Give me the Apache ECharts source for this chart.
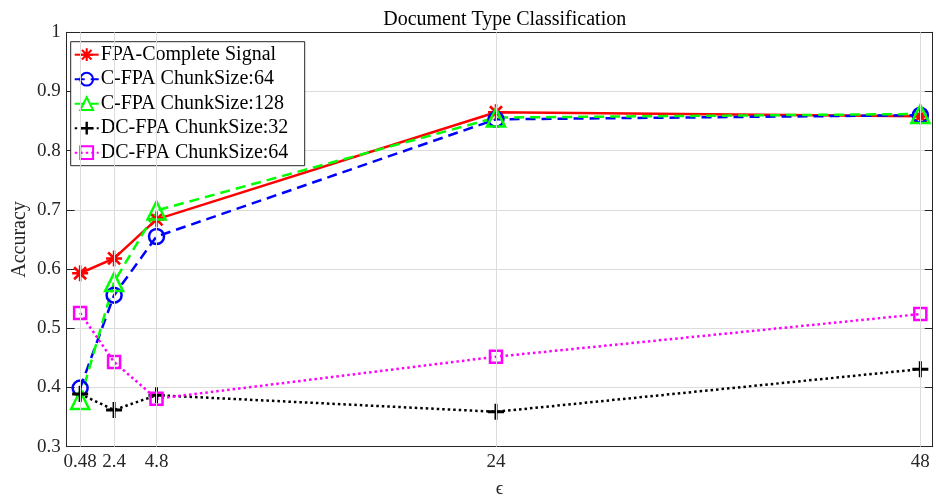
<!DOCTYPE html>
<html>
<head>
<meta charset="utf-8">
<script src="https://cdn.jsdelivr.net/npm/echarts@6/dist/echarts.min.js"></script>
<style>html,body{margin:0;padding:0;background:#fff}#c{width:936px;height:499px}</style>
</head>
<body>
<div id="c"></div>
<script>
const xValues = [0.48, 2.4, 4.8, 24, 48];
const xTickLabels = [0.48, 2.4, 4.8, 24, 48];
const seriesNames = ['FPA-Complete Signal', 'C-FPA ChunkSize:64', 'C-FPA ChunkSize:128', 'DC-FPA ChunkSize:32', 'DC-FPA ChunkSize:64'];
const fpaComplete = [0.593, 0.618, 0.684, 0.865, 0.858];
const cfpa64 = [0.399, 0.556, 0.655, 0.853, 0.860];
const cfpa128 = [0.379, 0.578, 0.699, 0.856, 0.862];
const dcfpa32 = [0.389, 0.362, 0.387, 0.359, 0.431];
const dcfpa64 = [0.526, 0.443, 0.381, 0.452, 0.524];

const FONT = 'Liberation Serif';
const AX = '#262626';
const GRID = '#dcdcdc';
const XMIN = -0.28, XMAX = 48.7;

const asterisk = 'path://M6.7,0H9.3V6.7H16V9.3H9.3V16H6.7V9.3H0V6.7H6.7Z M2.92,1.08L14.92,13.08L13.08,14.92L1.08,2.92Z M13.08,1.08L14.92,2.92L2.92,14.92L1.08,13.08Z';
const plus = 'path://M6.5,0H9.5V6.5H16V9.5H9.5V16H6.5V9.5H0V6.5H6.5Z';

function pts(vals){ return xValues.map((x,i)=>[x, vals[i]]); }

function mk(name, vals, color, dash, symbol, size, filled){
  return {
    name: name, type: 'line', data: pts(vals),
    xAxisIndex: 0, yAxisIndex: 0,
    symbol: symbol, symbolSize: size,
    lineStyle: {color: color, width: 2.5, type: dash},
    itemStyle: filled ? {color: color, borderWidth: 0} : {color: 'rgba(255,255,255,0)', borderColor: color, borderWidth: 2.5},
    emphasis: {disabled: true},
    animation: false,
    z: 3
  };
}

const chart = echarts.init(document.getElementById('c'), null, {renderer: 'canvas'});
chart.setOption({
  animation: false,
  backgroundColor: '#fff',
  textStyle: {fontFamily: FONT},
  title: {
    text: 'Document Type Classification',
    left: 499.7, top: 5, textAlign: 'center',
    textStyle: {fontFamily: FONT, fontSize: 20, fontWeight: 'normal', color: '#000'}
  },
  grid: {left: 66.7, right: 3.3, top: 32.3, bottom: 52.3, containLabel: false, outerBoundsMode: 'none'},
  legend: {
    orient: 'vertical', left: 70.7, top: 41.7,
    data: seriesNames,
    backgroundColor: '#fff', borderColor: AX, borderWidth: 1,
    padding: [3, 4, 3, 3],
    itemGap: 4.5, itemWidth: 24, itemHeight: 16,
    textStyle: {fontFamily: FONT, fontSize: 20, color: '#000', lineHeight: 20, width: 200, padding: [0, 0, 0, -3]},
    selectedMode: false
  },
  xAxis: [{
    type: 'value', min: XMIN, max: XMAX, position: 'bottom',
    name: 'ϵ', nameLocation: 'middle', nameGap: 33, nameMoveOverlap: false,
    nameTextStyle: {fontFamily: FONT, fontSize: 19, color: AX},
    axisLine: {show: true, onZero: false, lineStyle: {color: AX, width: 1}},
    axisTick: {show: true, inside: true, length: 8, customValues: xTickLabels, lineStyle: {color: AX}},
    axisLabel: {customValues: xTickLabels, fontFamily: FONT, fontSize: 19, color: AX, margin: 6,
      formatter: v => String(v)},
    splitLine: {show: false}
  }, {
    type: 'value', min: XMIN, max: XMAX, position: 'top',
    axisLine: {show: true, onZero: false, lineStyle: {color: AX, width: 1}},
    axisTick: {show: true, inside: true, length: 8, customValues: xTickLabels, lineStyle: {color: AX}},
    axisLabel: {show: false, customValues: xTickLabels},
    splitLine: {show: false}
  }],
  yAxis: [{
    type: 'value', min: 0.3, max: 1, interval: 0.1, position: 'left',
    name: 'Accuracy', nameLocation: 'middle', nameGap: 37, nameRotate: 90, nameMoveOverlap: false,
    nameTextStyle: {fontFamily: FONT, fontSize: 20, color: AX},
    axisLine: {show: true, onZero: false, lineStyle: {color: AX, width: 1}},
    axisTick: {show: true, inside: true, length: 8, lineStyle: {color: AX}},
    axisLabel: {fontFamily: FONT, fontSize: 19, color: AX, margin: 6,
      formatter: v => String(Math.round(v*10)/10)},
    splitLine: {show: true, lineStyle: {color: GRID, width: 1}}
  }, {
    type: 'value', min: 0.3, max: 1, interval: 0.1, position: 'right',
    axisLine: {show: true, onZero: false, lineStyle: {color: AX, width: 1}},
    axisTick: {show: true, inside: true, length: 8, lineStyle: {color: AX}},
    axisLabel: {show: false},
    splitLine: {show: false}
  }],
  series: [
    Object.assign(mk(seriesNames[0], fpaComplete, '#ff0000', 'solid', asterisk, 16, true), {
      markLine: {
        silent: true, symbol: 'none', label: {show: false}, animation: false,
        lineStyle: {color: GRID, width: 1, type: 'solid'},
        data: xTickLabels.map(v => ({xAxis: v}))
      }
    }),
    mk(seriesNames[1], cfpa64, '#0000ff', [10, 6], 'circle', 15, false),
    mk(seriesNames[2], cfpa128, '#00ff00', [10, 6], 'triangle', 18, false),
    mk(seriesNames[3], dcfpa32, '#000000', [2.5, 3], plus, 16, true),
    mk(seriesNames[4], dcfpa64, '#ff00ff', [2.5, 3], 'rect', 12, false)
  ]
});
</script>
</body>
</html>
